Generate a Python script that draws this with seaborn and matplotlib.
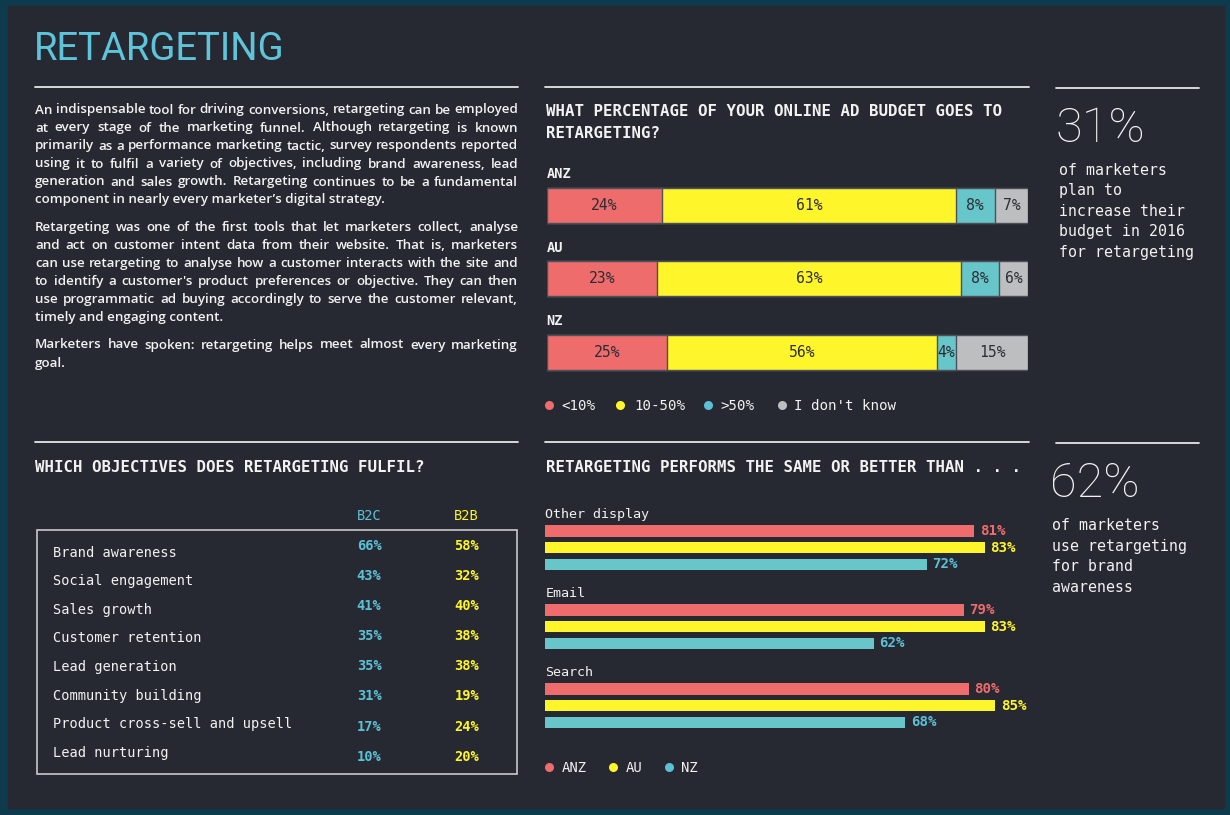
import numpy as np
import pandas as pd
import seaborn as sns
import matplotlib.pyplot as plt
from matplotlib.patches import Rectangle
from matplotlib.lines import Line2D

# ---- data ----
budget_regions = ["ANZ", "AU", "NZ"]
budget_under10 = [24, 23, 25]
budget_10to50 = [61, 63, 56]
budget_over50 = [8, 8, 4]
budget_dontknow = [7, 6, 15]
budget_keys = ["<10%", "10-50%", ">50%", "I don't know"]

objectives = ["Brand awareness", "Social engagement", "Sales growth", "Customer retention",
              "Lead generation", "Community building", "Product cross-sell and upsell", "Lead nurturing"]
b2c = [66, 43, 41, 35, 35, 31, 17, 10]
b2b = [58, 32, 40, 38, 38, 19, 24, 20]

channels = ["Other display", "Email", "Search"]
perf_regions = ["ANZ", "AU", "NZ"]
perf_anz = [81, 79, 80]
perf_au = [83, 83, 85]
perf_nz = [72, 62, 68]

stat_budget = "31%"
stat_budget_text = ["of marketers", "plan to", "increase their", "budget in 2016", "for retargeting"]
stat_brand = "62%"
stat_brand_text = ["of marketers", "use retargeting", "for brand", "awareness"]

para1 = ["An indispensable tool for driving conversions, retargeting can be employed",
         "at every stage of the marketing funnel. Although retargeting is known",
         "primarily as a performance marketing tactic, survey respondents reported",
         "using it to fulfil a variety of objectives, including brand awareness, lead",
         "generation and sales growth. Retargeting continues to be a fundamental",
         "component in nearly every marketer\u2019s digital strategy."]
para2 = ["Retargeting was one of the first tools that let marketers collect, analyse",
         "and act on customer intent data from their website. That is, marketers",
         "can use retargeting to analyse how a customer interacts with the site and",
         "to identify a customer's product preferences or objective. They can then",
         "use programmatic ad buying accordingly to serve the customer relevant,",
         "timely and engaging content."]
para3 = ["Marketers have spoken: retargeting helps meet almost every marketing",
         "goal."]

# ---- style ----
BORDER = "#0d3a4c"
BG = "#262931"
WHITE = "#f2f2f2"
RED = "#ee6c6c"
YELLOW = "#fff52b"
TEAL = "#67c6c9"
BLUE = "#5cc1d6"
GREY = "#bdbec0"
MONO = "DejaVu Sans Mono"
SANS = "Roboto"
BODY = "Open Sans"

sns.set_theme(style="dark")
plt.rcParams["font.family"] = ["DejaVu Sans"]

W, H = 1230, 815
fig = plt.figure(figsize=(W / 100, H / 100), dpi=100, facecolor=BORDER)
renderer = fig.canvas.get_renderer()


def fx(x):
    return x / W


def fy(y):
    return 1 - y / H


def put(x, y, s, **kw):
    kw.setdefault("va", "baseline")
    return fig.text(fx(x), fy(y), s, **kw)


def hline(x0, x1, y, color="#e6e6e6", lw=1.3):
    fig.add_artist(Line2D([fx(x0), fx(x1)], [fy(y), fy(y)], transform=fig.transFigure,
                          color=color, lw=lw))


def dot(x, y, color):
    fig.add_artist(Line2D([fx(x)], [fy(y)], transform=fig.transFigure, marker="o",
                          markersize=6.5, color=color, markeredgewidth=0, linestyle="none"))


def axes_px(x0, y0, x1, y1):
    a = fig.add_axes([fx(x0), fy(y1), (x1 - x0) / W, (y1 - y0) / H])
    a.set_facecolor("none")
    return a


def justified(lines, x0, x1, y0, step, **kw):
    for k, line in enumerate(lines):
        y = y0 + k * step
        if k == len(lines) - 1:
            put(x0, y, line, **kw)
            continue
        words = line.split(" ")
        arts = [put(0, 0, w, **kw) for w in words]
        widths = [a.get_window_extent(renderer).width for a in arts]
        gap = (x1 - x0 - sum(widths)) / (len(words) - 1)
        x = x0
        for a, w in zip(arts, widths):
            a.set_position((fx(x), fy(y)))
            x += w + gap


# inner panel
fig.add_artist(Rectangle((fx(8), fy(808)), (1224 - 8) / W, (808 - 6) / H,
                         transform=fig.transFigure, color=BG, zorder=-10))

# title + intro text
put(34, 59.5, "RETARGETING", family=SANS, fontsize=27.5, color="#5ec4d9")
hline(35, 518, 87)
body = dict(family=BODY, fontsize=9.6, fontweight="semibold", color=WHITE)
justified(para1, 35, 518, 113.5, 18, **body)
justified(para2, 35, 518, 230.8, 18.1, **body)
justified(para3, 35, 518, 348.5, 18.2, **body)

# ---- budget stacked bars ----
hline(545, 1029, 87)
head = dict(family=MONO, fontsize=11.3, fontweight="bold", color=WHITE)
put(546, 116, "WHAT PERCENTAGE OF YOUR ONLINE AD BUDGET GOES TO", **head)
put(546, 138.3, "RETARGETING?", **head)

ax1 = axes_px(546.7, 168.5, 1028.3, 389)
layers = [budget_under10, budget_10to50, budget_over50, budget_dontknow]
layer_colors = [RED, YELLOW, TEAL, GREY]
cum = np.cumsum(layers, axis=0)
for k in reversed(range(len(layers))):
    sns.barplot(x=cum[k], y=budget_regions, color=layer_colors[k], saturation=1,
                width=0.476, edgecolor="#4d5058", linewidth=1, orient="h", ax=ax1)
for i, region in enumerate(budget_regions):
    left = 0
    for k in range(len(layers)):
        v = layers[k][i]
        ax1.text(left + v / 2, i, f"{v}%", ha="center", va="center", family=MONO,
                 fontsize=10.6, color="#2b2d33")
        left += v
    ax1.text(0, i - 0.367, region, va="baseline", family=MONO, fontsize=9.8,
             fontweight="bold", color=WHITE, clip_on=False)
ax1.set_xlim(0, 100)
ax1.set_ylim(2.5, -0.5)
ax1.axis("off")

for x_dot, x_txt, lab, c in zip([549, 620, 708.3, 781.7], [561.7, 634, 720.7, 794.3],
                                budget_keys, [RED, YELLOW, BLUE, GREY]):
    dot(x_dot, 405, c)
    put(x_txt, 410, lab, family=MONO, fontsize=10.2, color=WHITE)

# ---- stat 1 ----
hline(1056, 1199, 87.5)
put(1056, 142.3, stat_budget, family=SANS, fontweight="light", fontsize=35, color=WHITE)
for k, line in enumerate(stat_budget_text):
    put(1059, 175 + 20.4 * k, line, family=MONO, fontsize=10.7, color=WHITE)

# ---- objectives table ----
hline(35, 518, 442)
put(35, 472.3, "WHICH OBJECTIVES DOES RETARGETING FULFIL?", **head)
fig.add_artist(Rectangle((fx(36.7), fy(774)), (516.7 - 36.7) / W, (774 - 530) / H,
                         transform=fig.transFigure, fill=False, edgecolor="#c9c9c9", lw=1.2))
put(369, 520, "B2C", ha="center", family=MONO, fontsize=9.8, color=BLUE)
put(466.7, 520, "B2B", ha="center", family=MONO, fontsize=9.8, color=YELLOW)
for i, (obj, c, b) in enumerate(zip(objectives, b2c, b2b)):
    put(52.5, 556.7 + 28.57 * i, obj, family=MONO, fontsize=9.8, color=WHITE)
    put(369, 550 + 30.1 * i, f"{c}%", ha="center", family=MONO, fontsize=9.8,
        fontweight="bold", color=BLUE)
    put(466.7, 550 + 30.1 * i, f"{b}%", ha="center", family=MONO, fontsize=9.8,
        fontweight="bold", color=YELLOW)

# ---- performance grouped bars ----
hline(545, 1029, 442)
put(546, 471.7, "RETARGETING PERFORMS THE SAME OR BETTER THAN . . .", **head)

perf = pd.DataFrame({
    "channel": channels * 3,
    "region": [r for r in perf_regions for _ in channels],
    "value": perf_anz + perf_au + perf_nz,
})
perf_colors = {"ANZ": RED, "AU": YELLOW, "NZ": TEAL}
label_colors = {"ANZ": RED, "AU": YELLOW, "NZ": BLUE}
ax2 = axes_px(545.3, 508.2, 1074.9, 745.2)
sns.barplot(data=perf, x="value", y="channel", hue="region", order=channels,
            hue_order=perf_regions, palette=perf_colors, saturation=1, width=0.634,
            gap=0.32, orient="h", legend=False, linewidth=0, ax=ax2)
for cont, region in zip(ax2.containers, perf_regions):
    ax2.bar_label(cont, fmt="%d%%", padding=4, family=MONO, fontsize=10.2,
                  fontweight="bold", color=label_colors[region])
for i, ch in enumerate(channels):
    ax2.text(0, i - 0.373, ch, va="baseline", family=MONO, fontsize=9.6,
             color=WHITE, clip_on=False)
ax2.set_xlim(0, 100)
ax2.set_ylim(2.5, -0.5)
ax2.axis("off")

for x_dot, x_txt, lab in zip([549.3, 613.3, 668.7], [562, 626, 681], perf_regions):
    dot(x_dot, 766.7, label_colors[lab])
    put(x_txt, 771.5, lab, family=MONO, fontsize=10, color=WHITE)

# ---- stat 2 ----
hline(1056, 1199, 443)
put(1050, 496.7, stat_brand, family=SANS, fontweight="light", fontsize=35, color=WHITE)
for k, line in enumerate(stat_brand_text):
    put(1052, 530 + 20.5 * k, line, family=MONO, fontsize=10.7, color=WHITE)

fig.savefig("out.png", dpi=100, facecolor=fig.get_facecolor())
